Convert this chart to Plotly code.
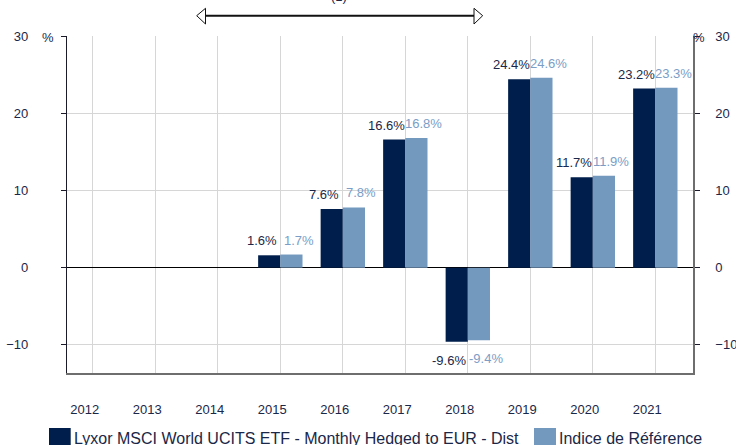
import plotly.graph_objects as go

years = ["2012", "2013", "2014", "2015", "2016", "2017", "2018", "2019", "2020", "2021"]
fund = [None, None, None, 1.6, 7.6, 16.6, -9.6, 24.4, 11.7, 23.2]
index_ref = [None, None, None, 1.7, 7.8, 16.8, -9.4, 24.6, 11.9, 23.3]
fund_name = "Lyxor MSCI World UCITS ETF - Monthly Hedged to EUR - Dist"
index_name = "Indice de Référence"
y_ticks = [-10, 0, 10, 20, 30]

DARK = "#001e4b"
LIGHT = "#7399bf"
TXT_DARK = "#1a2748"
TXT_LIGHT = "#7b9dc6"
FONT = "Liberation Sans, Arial, sans-serif"

W, H = 736, 445
L, R, T, B = 67, 43, 36, 72
PW, PH = W - L - R, H - T - B


def px(x):
    return (x - L) / PW


def py(y):
    return (H - B - y) / PH


fig = go.Figure()
fig.add_trace(go.Bar(x=years, y=fund, name=fund_name, marker=dict(color=DARK, line=dict(width=0))))
fig.add_trace(go.Bar(x=years, y=index_ref, name=index_name, marker=dict(color=LIGHT, line=dict(width=0))))
fig.add_trace(go.Scatter(x=years, y=[None] * len(years), yaxis="y2", mode="lines",
                         showlegend=False, hoverinfo="skip"))

annotations = []
for i, v in enumerate(fund):
    if v is None:
        continue
    annotations.append(dict(x=i, y=v, xref="x", yref="y", text=f"{v:.1f}%", showarrow=False,
                            xshift=-18.5, yshift=5 if v >= 0 else -9,
                            yanchor="bottom" if v >= 0 else "top",
                            font=dict(size=13, color=TXT_DARK, family=FONT)))
for i, v in enumerate(index_ref):
    if v is None:
        continue
    annotations.append(dict(x=i, y=v, xref="x", yref="y", text=f"{v:.1f}%", showarrow=False,
                            xshift=18.5, yshift=5 if v >= 0 else -9,
                            yanchor="bottom" if v >= 0 else "top",
                            font=dict(size=13, color=TXT_LIGHT, family=FONT)))

# percent units
annotations.append(dict(x=px(48), y=py(37), xref="paper", yref="paper", text="%", showarrow=False,
                        xanchor="center", yanchor="middle", font=dict(size=13, color=TXT_DARK, family=FONT)))
annotations.append(dict(x=px(699), y=py(37), xref="paper", yref="paper", text="%", showarrow=False,
                        xanchor="center", yanchor="middle", font=dict(size=13, color=TXT_DARK, family=FONT)))
# cut-off note text at top
annotations.append(dict(x=px(339), y=py(6), xref="paper", yref="paper", text="(1)", showarrow=False,
                        xanchor="center", yanchor="bottom", font=dict(size=13, color=TXT_DARK, family=FONT)))

# custom legend
annotations.append(dict(x=px(72), y=py(428), xref="paper", yref="paper", text=fund_name, showarrow=False,
                        xanchor="left", yanchor="top", font=dict(size=16, color=TXT_DARK, family=FONT)))
annotations.append(dict(x=px(557), y=py(428), xref="paper", yref="paper", text=index_name, showarrow=False,
                        xanchor="left", yanchor="top", font=dict(size=16, color=TXT_DARK, family=FONT)))

shapes = [
    dict(type="rect", xref="paper", yref="paper", x0=px(49), x1=px(70.7), y0=py(428), y1=py(452),
         fillcolor=DARK, line=dict(width=0)),
    dict(type="rect", xref="paper", yref="paper", x0=px(534), x1=px(556), y0=py(428), y1=py(452),
         fillcolor=LIGHT, line=dict(width=0)),
    # arrow
    dict(type="line", xref="paper", yref="paper", x0=px(205), x1=px(474), y0=py(15.7), y1=py(15.7),
         line=dict(color="#111111", width=2)),
    dict(type="path", xref="paper", yref="paper",
         path=f"M {px(196.7)},{py(15.7)} L {px(205.5)},{py(8.3)} L {px(205.5)},{py(24)} Z",
         fillcolor="white", line=dict(color="#111111", width=1)),
    dict(type="path", xref="paper", yref="paper",
         path=f"M {px(482.7)},{py(15.7)} L {px(474)},{py(8.3)} L {px(474)},{py(24)} Z",
         fillcolor="white", line=dict(color="#111111", width=1)),
]

yr = [-13.65, 30.01]
fig.update_layout(
    width=W, height=H,
    margin=dict(l=L, r=R, t=T, b=B, pad=0, autoexpand=False),
    paper_bgcolor="white", plot_bgcolor="white",
    barmode="group", bargap=0.29, bargroupgap=0,
    showlegend=False,
    font=dict(family=FONT, size=13, color=TXT_DARK),
    xaxis=dict(type="category", range=[-0.413, 9.603], showgrid=True, gridcolor="#d6d6d6", gridwidth=1,
               showline=True, linecolor="#6e6e6e", linewidth=1.5, ticks="", ticklabelstandoff=24,
               ticklabelshift=-8, tickfont=dict(size=13, color=TXT_DARK), zeroline=False,
               automargin=False),
    yaxis=dict(range=yr, tickvals=y_ticks, showgrid=True, gridcolor="#d6d6d6", gridwidth=1,
               zeroline=True, zerolinecolor="#000000", zerolinewidth=1.2,
               showline=True, linecolor="#1a1a2a", linewidth=1.2,
               ticks="outside", ticklen=5, tickcolor="#1a1a2a", ticklabelstandoff=30,
               tickfont=dict(size=13, color=TXT_DARK), automargin=False),
    yaxis2=dict(range=yr, tickvals=y_ticks, overlaying="y", side="right", showgrid=False, zeroline=False,
                showline=True, linecolor="#6e6e6e", linewidth=1.5,
                ticks="outside", ticklen=5, tickcolor="#1a1a2a", ticklabelstandoff=13,
                tickfont=dict(size=13, color=TXT_DARK), automargin=False),
    annotations=annotations,
    shapes=shapes,
)

fig.write_html("out.html", config={"displayModeBar": False},
               post_script="document.body.style.margin='0px';")
